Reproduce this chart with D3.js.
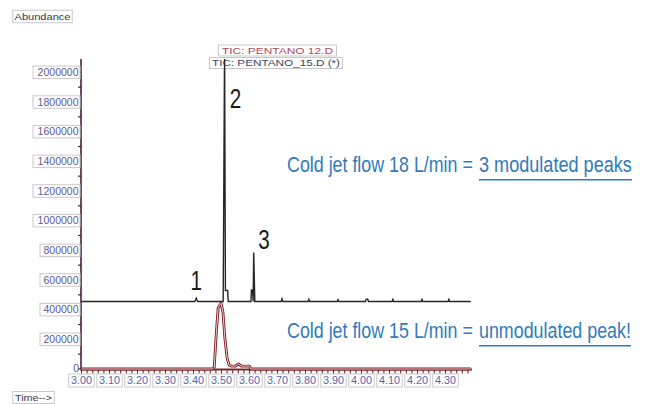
<!DOCTYPE html>
<html>
<head>
<meta charset="utf-8">
<script src="https://cdn.jsdelivr.net/npm/d3@7/dist/d3.min.js"></script>
<style>
  body { margin: 0; background: #fff; }
  svg { display: block; }
</style>
</head>
<body>
<svg id="chart" width="647" height="404"></svg>
<script>
// ---- axis ticks ----
const xTickValues = [3.0, 3.1, 3.2, 3.3, 3.4, 3.5, 3.6, 3.7, 3.8, 3.9, 4.0, 4.1, 4.2, 4.3];
const xTickLabels = ["3.00", "3.10", "3.20", "3.30", "3.40", "3.50", "3.60", "3.70", "3.80", "3.90", "4.00", "4.10", "4.20", "4.30"];
const yTickValues = [0, 200000, 400000, 600000, 800000, 1000000, 1200000, 1400000, 1600000, 1800000, 2000000];
const yTickLabels = ["0", "200000", "400000", "600000", "800000", "1000000", "1200000", "1400000", "1600000", "1800000", "2000000"];

// ---- TIC: PENTANO_15.D (*)  (cold jet 18 L/min, drawn with a vertical offset) ----
const run15Offset = 455000;
const run15Time = [3.000, 3.405, 3.410, 3.415, 3.506, 3.511, 3.514, 3.518, 3.522, 3.524,
                   3.605, 3.607, 3.611, 3.613, 3.615, 3.619,
                   3.713, 3.716, 3.719, 3.809, 3.812, 3.815, 3.913, 3.916, 3.919,
                   4.014, 4.017, 4.022, 4.025, 4.109, 4.112, 4.115, 4.213, 4.216, 4.219,
                   4.309, 4.312, 4.315, 4.390];
const run15Abundance = [0, 0, 22000, 0, 0, 1750000, 74000, 74000, 74000, 0,
                        0, 78000, 78000, 0, 330000, 0,
                        0, 18000, 0, 0, 14000, 0, 0, 12000, 0,
                        0, 16000, 16000, 0, 0, 14000, 0, 0, 14000, 0,
                        0, 14000, 0, 0];

// ---- TIC: PENTANO 12.D  (cold jet 15 L/min) ----
const run12Time = [3.000, 3.468, 3.474, 3.481, 3.488, 3.4985, 3.505, 3.512, 3.520, 3.527,
                   3.535, 3.550, 3.556, 3.562, 3.570, 3.600, 3.604, 4.390];
const run12Abundance = [0, 0, 13000, 229000, 411000, 444000, 384000, 209000, 74000, 27000,
                        20000, 20000, 27000, 34000, 20000, 20000, 0, 0];

// ---- peak numbers on the modulated trace ----
const peakNames = ["1", "2", "3"];
const peakLabelTime = [3.410, 3.550, 3.652];
const peakLabelAbundance = [530000, 1757000, 808000];

// ---- notes ----
const notePrefix = ["Cold jet flow 18 L/min =", "Cold jet flow 15 L/min ="];
const noteResult = ["3 modulated peaks", "unmodulated peak!"];
const noteAbundance = [1330000, 210000];

const svg = d3.select("#chart");
const FONT = "'Liberation Sans', Arial, sans-serif";

const x = d3.scaleLinear().domain([3.0, 4.39]).range([81.5, 470.7]);
const y = d3.scaleLinear().domain([0, 2090000]).range([369, 59]);

svg.append("defs").append("clipPath").attr("id", "plot")
  .append("rect").attr("x", 81).attr("y", 59).attr("width", 395).attr("height", 312);

// boxed label helper
function boxLabel(g, cx, cy, w, h, text, tlen, color, size, anchor) {
  g.append("rect").attr("x", cx - w / 2).attr("y", cy - h / 2)
    .attr("width", w).attr("height", h)
    .attr("fill", "#fff").attr("stroke", "#c9c9c9").attr("stroke-width", 1);
  const t = g.append("text")
    .attr("font-family", FONT).attr("font-size", size).attr("fill", color)
    .attr("y", cy + size * 0.36).text(text);
  if (anchor === "end") {
    t.attr("x", cx + w / 2 - 1.5).attr("text-anchor", "end");
  } else {
    t.attr("x", cx - tlen / 2);
    t.attr("textLength", tlen).attr("lengthAdjust", "spacingAndGlyphs");
  }
  return t;
}

// text squeezed horizontally to a fixed width
function narrowText(g, x0, y0, width, size, color, text) {
  const t = g.append("text").attr("font-family", FONT).attr("font-size", size)
    .attr("fill", color).text(text);
  const natural = t.node().getComputedTextLength();
  t.attr("transform", `translate(${x0},${y0}) scale(${width / natural},1)`);
  return t;
}

// ---- y axis ----
const yAxis = svg.append("g");
yAxis.append("line").attr("x1", 81).attr("x2", 81).attr("y1", 59).attr("y2", 369)
  .attr("stroke", "#45203f").attr("stroke-width", 1.6);
d3.range(0, 2090001, 100000).forEach(v => {
  yAxis.append("line").attr("x1", 78).attr("x2", 81).attr("y1", y(v)).attr("y2", y(v))
    .attr("stroke", "#45203f").attr("stroke-width", 1.2);
});
yTickValues.forEach((v, i) => {
  if (v === 0) {
    yAxis.append("text").attr("x", 79).attr("y", y(v) + 3).attr("text-anchor", "end")
      .attr("font-family", FONT).attr("font-size", 10.5).attr("fill", "#5d5a93").text(yTickLabels[i]);
  } else {
    const w = yTickLabels[i].length === 7 ? 47 : 40;
    boxLabel(yAxis, 80 - w / 2, y(v), w, 12.5, yTickLabels[i], 0, "#5d5a93", 10.5, "end");
  }
});

// ---- x axis ----
const xAxis = svg.append("g");
d3.range(0, 70).forEach(k => {
  const t = 3.0 + k * 0.02;
  const major = k % 5 === 0;
  xAxis.append("line").attr("x1", x(t)).attr("x2", x(t)).attr("y1", 369).attr("y2", major ? 375 : 373.5)
    .attr("stroke", "#6e2a33").attr("stroke-width", 1.1);
});
xAxis.append("line").attr("x1", 80).attr("x2", 472).attr("y1", 369.5).attr("y2", 369.5)
  .attr("stroke", "#7a2a2a").attr("stroke-width", 2);
xTickValues.forEach((v, i) => {
  boxLabel(xAxis, x(v), 380.5, 25.5, 13, xTickLabels[i], 21, "#5864b0", 10);
});

// ---- traces ----
const line = d3.line().x(d => x(d[0])).y(d => y(d[1]));
const traces = svg.append("g").attr("clip-path", "url(#plot)");

const run12 = run12Time.map((t, i) => [t, run12Abundance[i]]);
traces.append("path").attr("d", line(run12)).attr("fill", "none")
  .attr("stroke", "#7d1a1f").attr("stroke-width", 2.8).attr("stroke-linejoin", "round");
traces.append("path").attr("d", line(run12)).attr("fill", "none")
  .attr("stroke", "#f6e4e4").attr("stroke-width", 0.9).attr("stroke-linejoin", "round");

const run15 = run15Time.map((t, i) => [t, run15Abundance[i] + run15Offset]);
traces.append("path").attr("d", line(run15)).attr("fill", "none")
  .attr("stroke", "#262626").attr("stroke-width", 1.4).attr("stroke-linejoin", "miter");

// ---- header labels ----
const head = svg.append("g");
boxLabel(head, 42.5, 16.5, 59.5, 12.5, "Abundance", 56, "#333850", 9.5);
boxLabel(head, 33.5, 397.5, 41.5, 12, "Time-->", 37, "#333850", 9.5);
boxLabel(head, 277.5, 50.5, 118, 11, "TIC: PENTANO 12.D", 111, "#b4475f", 9);
boxLabel(head, 276, 63, 133, 11, "TIC: PENTANO_15.D (*)", 128, "#3d4466", 9);
// the modulated peak passes in front of its own label
head.append("line").attr("x1", x(3.511)).attr("x2", x(3.511)).attr("y1", 59).attr("y2", 69)
  .attr("stroke", "#262626").attr("stroke-width", 1.4);

// ---- peak numbers ----
peakNames.forEach((n, i) => {
  const px = x(peakLabelTime[i]), py = y(peakLabelAbundance[i]);
  svg.append("text").attr("transform", `translate(${px},${py}) scale(0.74,1)`)
    .attr("text-anchor", "middle").attr("font-family", FONT).attr("font-size", 28)
    .attr("fill", "#1a1a1a").text(n);
});

// ---- notes ----
notePrefix.forEach((p, i) => {
  const by = y(noteAbundance[i]);
  narrowText(svg, 287, by, 186, 22, "#2f7bbd", p);
  const len = i === 0 ? 153 : 152;
  narrowText(svg, 479, by, len, 22, "#2f7bbd", noteResult[i]);
  svg.append("line").attr("x1", 479).attr("x2", 479 + len).attr("y1", by + 8).attr("y2", by + 8)
    .attr("stroke", "#2f7bbd").attr("stroke-width", 1.5);
});
</script>
</body>
</html>
